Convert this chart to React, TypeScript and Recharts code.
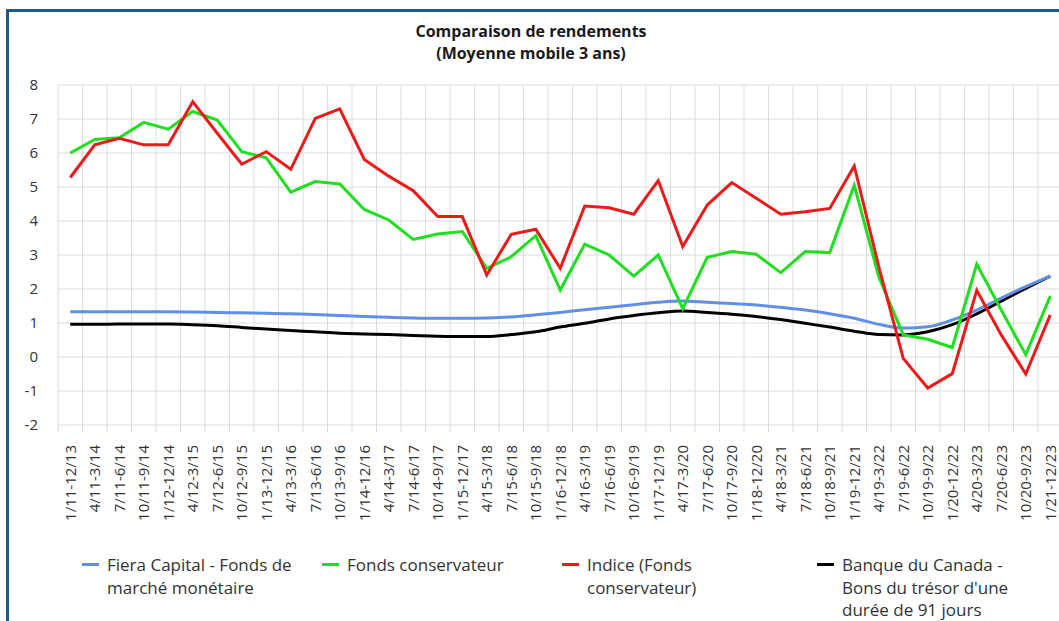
import React from "react";
import { LineChart, Line, XAxis, YAxis, CartesianGrid, Legend } from "recharts";

const categories = [
  "1/11-12/13", "4/11-3/14", "7/11-6/14", "10/11-9/14", "1/12-12/14", "4/12-3/15", "7/12-6/15",
  "10/12-9/15", "1/13-12/15", "4/13-3/16", "7/13-6/16", "10/13-9/16", "1/14-12/16", "4/14-3/17",
  "7/14-6/17", "10/14-9/17", "1/15-12/17", "4/15-3/18", "7/15-6/18", "10/15-9/18", "1/16-12/18",
  "4/16-3/19", "7/16-6/19", "10/16-9/19", "1/17-12/19", "4/17-3/20", "7/17-6/20", "10/17-9/20",
  "1/18-12/20", "4/18-3/21", "7/18-6/21", "10/18-9/21", "1/19-12/21", "4/19-3/22", "7/19-6/22",
  "10/19-9/22", "1/20-12/22", "4/20-3/23", "7/20-6/23", "10/20-9/23", "1/21-12/23",
];

const fieraValues = [
  1.33, 1.33, 1.33, 1.33, 1.33, 1.32, 1.31, 1.3, 1.29, 1.27, 1.25, 1.22, 1.19, 1.17, 1.15, 1.14,
  1.14, 1.15, 1.18, 1.24, 1.31, 1.39, 1.46, 1.54, 1.61, 1.65, 1.61, 1.57, 1.53, 1.46, 1.38, 1.27,
  1.14, 0.96, 0.85, 0.89, 1.09, 1.38, 1.73, 2.07, 2.38,
];

const fondsValues = [
  6.0, 6.4, 6.45, 6.9, 6.7, 7.22, 6.97, 6.04, 5.86, 4.85, 5.16, 5.09, 4.34, 4.03, 3.46, 3.62,
  3.69, 2.61, 2.95, 3.57, 1.97, 3.32, 3.0, 2.38, 3.0, 1.42, 2.93, 3.1, 3.02, 2.48, 3.1, 3.07,
  5.05, 2.36, 0.65, 0.52, 0.28, 2.73, 1.38, 0.07, 1.79,
];

const indiceValues = [
  5.28, 6.24, 6.43, 6.24, 6.24, 7.51, 6.58, 5.67, 6.04, 5.52, 7.02, 7.3, 5.81, 5.32, 4.89, 4.13,
  4.13, 2.41, 3.61, 3.76, 2.61, 4.44, 4.39, 4.2, 5.19, 3.25, 4.47, 5.13, 4.67, 4.2, 4.27, 4.37,
  5.62, 2.66, -0.04, -0.91, -0.49, 1.96, 0.65, -0.5, 1.24,
];

const banqueValues = [
  0.96, 0.96, 0.97, 0.97, 0.97, 0.95, 0.92, 0.87, 0.82, 0.78, 0.74, 0.7, 0.68, 0.66, 0.63, 0.61,
  0.6, 0.6, 0.66, 0.74, 0.88, 0.99, 1.12, 1.22, 1.3, 1.35, 1.31, 1.26, 1.19, 1.1, 0.99, 0.88,
  0.76, 0.66, 0.65, 0.74, 0.95, 1.27, 1.64, 2.02, 2.38,
];

const yTicks = [-2, -1, 0, 1, 2, 3, 4, 5, 6, 7, 8];

const titleLines = ["Comparaison de rendements", "(Moyenne mobile 3 ans)"];

const seriesInfo = [
  { key: "fiera", color: "#5f8fea", label: ["Fiera Capital - Fonds de", "marché monétaire"], width: 240 },
  { key: "fonds", color: "#1ee01e", label: ["Fonds conservateur"], width: 240 },
  { key: "indice", color: "#ee1a1a", label: ["Indice (Fonds", "conservateur)"], width: 255 },
  { key: "banque", color: "#000000", label: ["Banque du Canada -", "Bons du trésor d'une", "durée de 91 jours"], width: 240 },
];

const data = categories.map((c, i) => ({
  cat: c,
  fiera: fieraValues[i],
  fonds: fondsValues[i],
  indice: indiceValues[i],
  banque: banqueValues[i],
}));

const FONT = "'Open Sans', 'DejaVu Sans', sans-serif";
const CHART_W = 1075;
const CHART_H = 621;
const MARGIN = { top: 85, right: 12.5, left: 0, bottom: 0 };
const Y_W = 58;
const N = categories.length;
const HALF = (CHART_W - MARGIN.left - MARGIN.right - Y_W) / N / 2;

const XTick = (props: any) => {
  const { x, y, payload } = props;
  return (
    <g transform={`translate(${x},${y})`}>
      <line x1={-HALF} x2={-HALF} y1={-y + 425} y2={-y + 432} stroke="#d6d6d6" strokeWidth={1} />
      <text
        transform="rotate(-90)"
        x={-12}
        y={0}
        dy="0.35em"
        textAnchor="end"
        fontSize={15}
        fontFamily={FONT}
        fill="#333"
      >
        {payload.value}
      </text>
    </g>
  );
};

const LegendContent = () => (
  <div
    style={{
      display: "flex",
      paddingLeft: 82,
      paddingTop: 29,
      height: 96,
      boxSizing: "border-box",
      fontFamily: FONT,
      fontSize: 17,
      color: "#333",
      lineHeight: "22.5px",
    }}
  >
    {seriesInfo.map((s) => (
      <div key={s.key} style={{ width: s.width, display: "flex", alignItems: "flex-start" }}>
        <div style={{ width: 17, height: 3, background: s.color, marginTop: 9, marginRight: 8, flexShrink: 0 }} />
        <div>
          {s.label.map((l, i) => (
            <div key={i} style={{ whiteSpace: "nowrap" }}>{l}</div>
          ))}
        </div>
      </div>
    ))}
  </div>
);

export default function App() {
  return (
    <div
      style={{
        position: "fixed",
        left: 0,
        top: 0,
        width: 1059,
        height: 621,
        overflow: "hidden",
        background: "#fff",
      }}
    >
      <div
        style={{
          position: "absolute",
          left: 6,
          top: 9,
          width: 1200,
          height: 800,
          borderLeft: "3px solid #1b5a8a",
          borderTop: "3px solid #1b5a8a",
          boxSizing: "border-box",
        }}
      />
      <div
        style={{
          position: "absolute",
          left: 0,
          top: 20,
          width: 1062,
          textAlign: "center",
          fontFamily: FONT,
          fontWeight: 700,
          fontSize: 16,
          lineHeight: "22px",
          color: "#1a1a1a",
        }}
      >
        {titleLines.map((t, i) => (
          <div key={i}>{t}</div>
        ))}
      </div>
      <div style={{ position: "absolute", left: 0, top: 0 }}>
        <LineChart width={CHART_W} height={CHART_H} data={data} margin={MARGIN}>
          <CartesianGrid
            stroke="#dcdcdc"
            strokeWidth={1}
            verticalCoordinatesGenerator={({ offset }: any) =>
              Array.from({ length: N + 1 }, (_, i) => offset.left + (i * offset.width) / N)
            }
          />
          <XAxis
            dataKey="cat"
            interval={0}
            height={100}
            padding={{ left: HALF, right: HALF }}
            axisLine={false}
            tickLine={false}
            tick={<XTick />}
          />
          <YAxis
            domain={[-2, 8]}
            ticks={yTicks}
            width={Y_W}
            axisLine={false}
            tickLine={false}
            tickSize={0}
            tickMargin={20}
            tick={{ fontSize: 15, fontFamily: FONT, fill: "#333" }}
          />
          <Legend verticalAlign="bottom" align="left" content={<LegendContent />} />
          <Line dataKey="banque" type="monotone" stroke="#000" strokeWidth={3} dot={false} activeDot={false} isAnimationActive={false} />
          <Line dataKey="fiera" type="monotone" stroke="#5f8fea" strokeWidth={3} dot={false} activeDot={false} isAnimationActive={false} />
          <Line dataKey="fonds" type="linear" stroke="#1ee01e" strokeWidth={3} dot={false} activeDot={false} isAnimationActive={false} />
          <Line dataKey="indice" type="linear" stroke="#ee1a1a" strokeWidth={3} dot={false} activeDot={false} isAnimationActive={false} />
        </LineChart>
      </div>
    </div>
  );
}
